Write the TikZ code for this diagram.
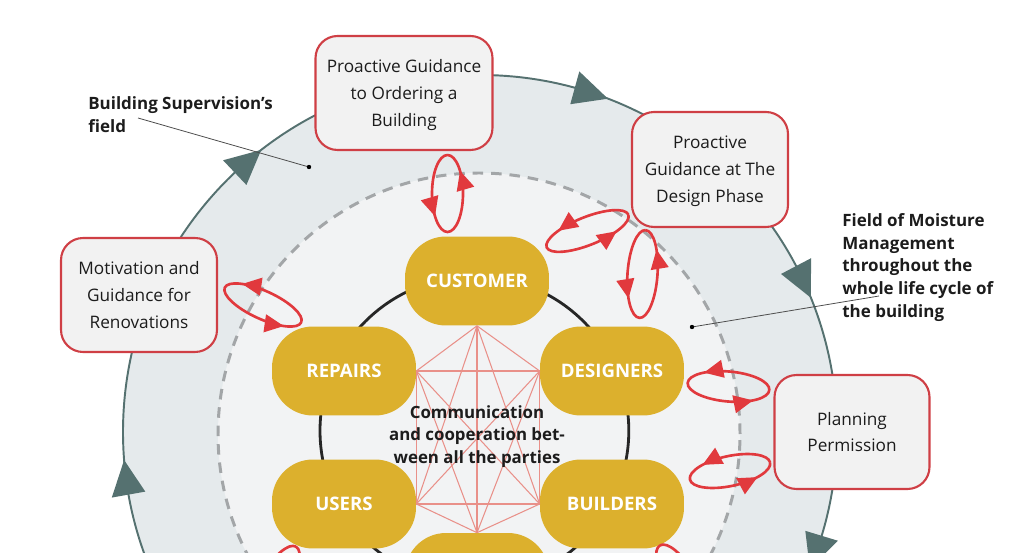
\documentclass[tikz,border=0pt]{standalone}
\usepackage{fontspec}
\setmainfont{Open Sans}
\usetikzlibrary{calc,arrows.meta,decorations.markings}

\definecolor{ringfill}{HTML}{E5EAEC}
\definecolor{innerfill}{HTML}{F2F3F4}
\definecolor{ringteal}{HTML}{557170}
\definecolor{dashgray}{HTML}{A3A6A8}
\definecolor{partygold}{HTML}{DCB02D}
\definecolor{loopred}{HTML}{E1393D}
\definecolor{boxred}{HTML}{CF3F45}
\definecolor{boxfill}{HTML}{F2F2F2}
\definecolor{pinkc}{HTML}{E99089}
\definecolor{darkline}{HTML}{262626}
\definecolor{txt}{HTML}{1C1C1C}

\tikzset{
  party/.style={fill=partygold, rounded corners=0.82cm, minimum width=2.88cm,
    minimum height=1.78cm, text=white, font=\fontsize{10.6}{12}\selectfont\bfseries, inner sep=0},
  infobox/.style={draw=boxred, line width=1.2pt, fill=boxfill, rounded corners=0.44cm,
    align=center, font=\fontsize{9.8}{15.3}\selectfont, inner sep=0, text=txt,
    text depth=0pt},
  pinkline/.style={draw=pinkc, line width=0.6pt},
  loopline/.style={color=loopred, line width=1.5pt},
  leader/.style={draw=black!70, line width=0.45pt},
  boldlabel/.style={font=\fontsize{9.65}{13}\selectfont\bfseries, align=left, anchor=west,
    inner sep=0, text=txt}
}

\newcommand{\redloop}[7]{%
  \begin{scope}[shift={(#1,-#2)}, rotate=#5]
    \draw[loopline, decoration={markings,
        mark=at position #6 with {\arrow{Triangle[length=11pt,width=10pt]}},
        mark=at position #7 with {\arrow{Triangle[length=11pt,width=10pt]}}},
        postaction={decorate}]
      (#3,0) arc[start angle=0, end angle=360, x radius=#3, y radius=#4];
  \end{scope}}

\begin{document}
\begin{tikzpicture}[x=0.02cm, y=0.02cm]
  \useasboundingbox (0,0) rectangle (1023,-553);
  \clip (0,0) rectangle (1023,-553);

  \coordinate (C) at (480,-432);
  % outer ring
  \draw[fill=ringfill, draw=ringteal, line width=1.1pt] (C) circle[radius=357];
  % inner dashed field
  \draw[fill=innerfill, draw=dashgray, line width=1.7pt, dash pattern=on 6pt off 4.5pt]
    (479,-434) circle[radius=261];
  % outer arrowheads (clockwise)
  \foreach \t in {190.1,133.4,74.6,27.7,-16.9} {
    \fill[ringteal] ($(C)+(\t:374)$) -- ($(C)+(\t:340)$) -- ($(C)+(\t-5.6:357)$) -- cycle;
  }
  % black circle of parties
  \draw[darkline, line width=1.6pt] (474.4,-430.7) circle[radius=154.4];

  % parties
  \node[party] (cust) at (477,-281) {CUSTOMER};
  \node[party] (rep) at (344,-371) {REPAIRS};
  \node[party] (des) at (612,-371) {DESIGNERS};
  \node[party] (usr) at (344,-504) {USERS};
  \node[party] (bld) at (612,-504) {BUILDERS};
  \node[party] (bot) at (477,-577.5) {};

  % communication network
  \foreach \a/\b in {cust.south/rep.east, cust.south/des.west, cust.south/usr.east,
      cust.south/bld.west, cust.south/bot.north, rep.east/des.west, rep.east/usr.east,
      rep.east/bld.west, rep.east/bot.north, des.west/usr.east, des.west/bld.west,
      des.west/bot.north, usr.east/bld.west, usr.east/bot.north, bld.west/bot.north} {
    \draw[pinkline] (\a) -- (\b);
  }

  \node[font=\fontsize{9.6}{12.8}\selectfont\bfseries, align=center, text=txt, inner sep=0]
    (comm) at (477,-436.5) {Communication\\and cooperation bet-\\ween all the parties};

  % guidance boxes
  \node[infobox, minimum width=3.54cm, minimum height=2.28cm] (b1) at (404,-93)
    {Proactive Guidance\\to Ordering a\\Building};
  \node[infobox, minimum width=3.12cm, minimum height=2.30cm] (b2) at (710,-169.5)
    {Proactive\\Guidance at The\\Design Phase};
  \node[infobox, minimum width=3.12cm, minimum height=2.28cm] (b3) at (139,-295)
    {Motivation and\\Guidance for\\Renovations};
  \node[infobox, minimum width=3.10cm, minimum height=2.28cm] (b4) at (852,-432)
    {Planning\\Permission};

  % red interaction loops
  \redloop{447.5}{193.5}{38.5}{15.5}{90}{0.38}{0.88}
  \redloop{587.5}{231}{44}{14}{21.8}{0.39}{0.89}
  \redloop{642.5}{274}{44}{15}{86}{0.38}{0.88}
  \redloop{263}{305}{42}{14}{-24.5}{0.40}{0.90}
  \redloop{728.5}{386.5}{41}{15}{-5}{0.39}{0.89}
  \redloop{730}{471}{41}{15}{12}{0.39}{0.89}
  \redloop{275}{583}{42}{15}{60}{0.39}{0.89}
  \redloop{680}{580}{40}{15}{120}{0.39}{0.89}

  % labels with leaders
  \node[boldlabel] (lab1) at (88,-114.5) {Building Supervision’s\\field};
  \coordinate (s1) at (138,-118);
  \coordinate (d1) at (309,-167);
  \draw[leader] (s1) -- (d1);
  \fill[black] (d1) circle[radius=2.2];

  \node[boldlabel] (lab2) at (842,-267.5)
    {Field of Moisture\\Management\\throughout the\\whole life cycle of\\the building};
  \coordinate (s2) at (879,-296);
  \coordinate (d2) at (692,-327);
  \draw[leader] (s2) -- (d2);
  \fill[black] (d2) circle[radius=2.2];
\end{tikzpicture}
\end{document}
